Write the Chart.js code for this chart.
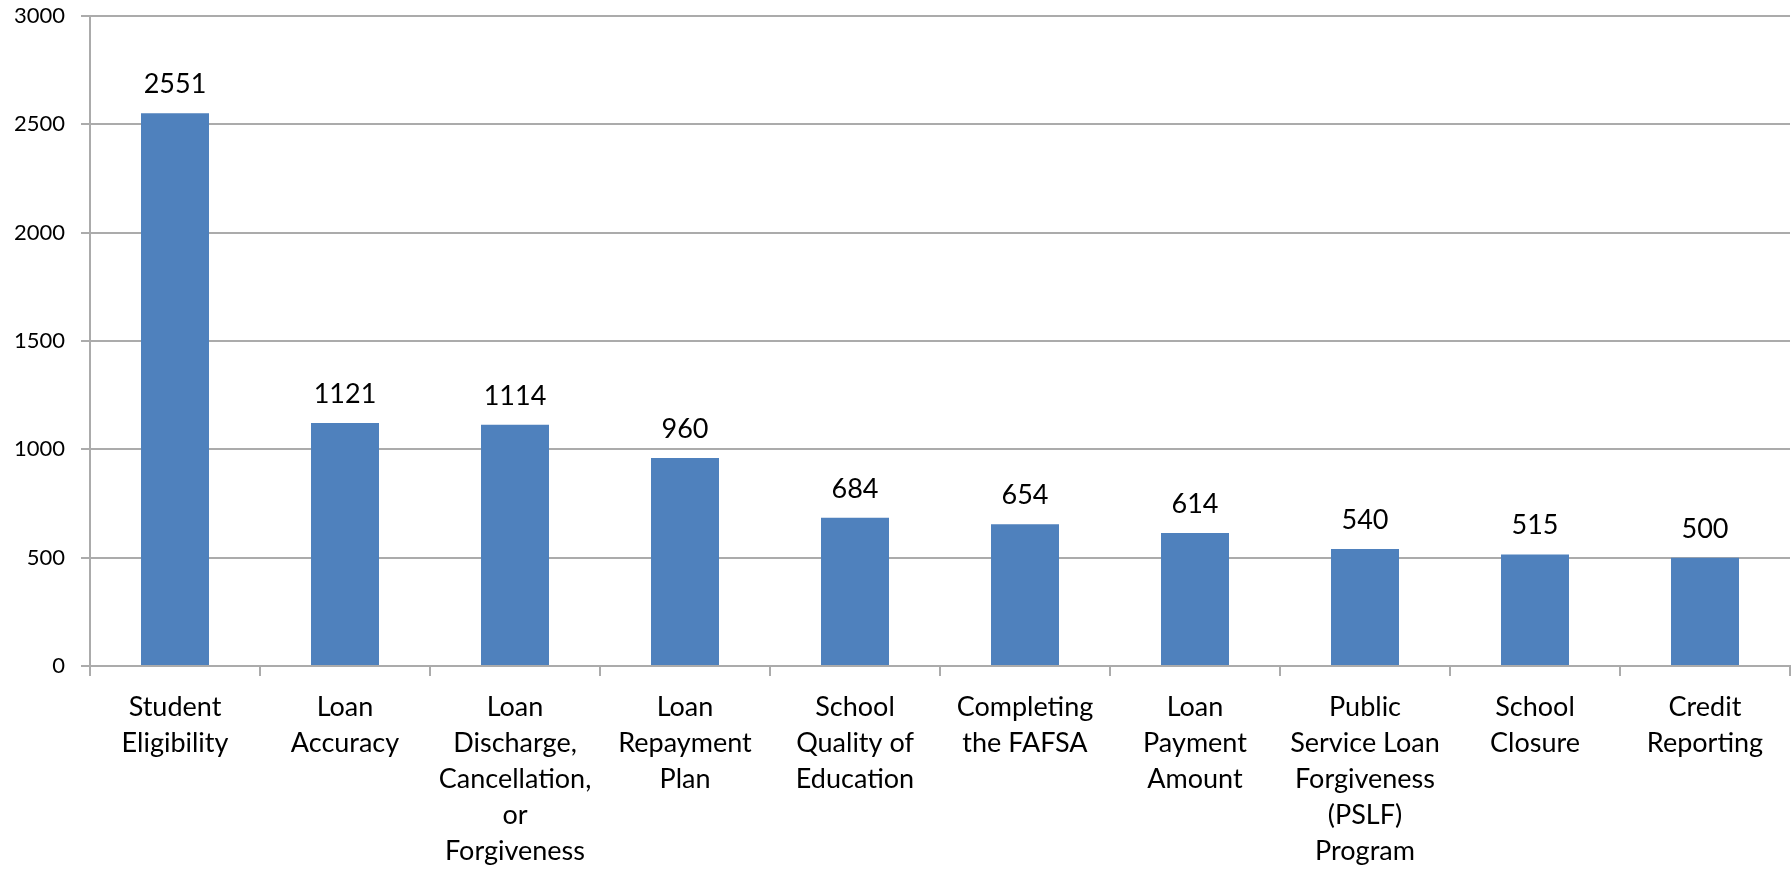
<!DOCTYPE html>
<html>
<head>
<meta charset="utf-8">
<script src="https://cdn.jsdelivr.net/npm/chart.js@4"></script>
<style>
html,body{margin:0;padding:0;background:#fff;}
#wrap{width:1791px;height:872px;position:relative;}
</style>
</head>
<body>
<div id="wrap"><canvas id="c" width="1791" height="872"></canvas></div>
<script>
const categories = [
  ["Student","Eligibility"],
  ["Loan","Accuracy"],
  ["Loan","Discharge,","Cancellation,","or","Forgiveness"],
  ["Loan","Repayment","Plan"],
  ["School","Quality of","Education"],
  ["Completing","the FAFSA"],
  ["Loan","Payment","Amount"],
  ["Public","Service Loan","Forgiveness","(PSLF)","Program"],
  ["School","Closure"],
  ["Credit","Reporting"]
];
const values = [2551, 1121, 1114, 960, 684, 654, 614, 540, 515, 500];
const yTicks = [0, 500, 1000, 1500, 2000, 2500, 3000];

const FONT = "Lato, 'Open Sans', sans-serif";
const gridColor = '#ababab';

// size the y tick font so "3000" is about as wide as in the reference (~50px)
const mctx = document.createElement('canvas').getContext('2d');
mctx.font = '20px ' + FONT;
const w20 = mctx.measureText('3000').width;
const yFontSize = Math.max(18, Math.min(28, Math.round(20 * 50 / w20)));

const valueLabels = {
  id: 'valueLabels',
  afterDatasetsDraw(chart) {
    const ctx = chart.ctx;
    const meta = chart.getDatasetMeta(0);
    ctx.save();
    ctx.font = '27px ' + FONT;
    ctx.fillStyle = '#000';
    ctx.textAlign = 'center';
    ctx.textBaseline = 'alphabetic';
    meta.data.forEach((bar, i) => {
      ctx.fillText(String(values[i]), bar.x, bar.y - 20);
    });
    ctx.restore();
  }
};

new Chart(document.getElementById('c'), {
  type: 'bar',
  data: {
    labels: categories,
    datasets: [{
      data: values,
      backgroundColor: '#4f81bd',
      borderWidth: 0,
      barPercentage: 0.4,
      categoryPercentage: 1.0
    }]
  },
  options: {
    responsive: false,
    animation: false,
    layout: { padding: { top: 16, right: 1, left: 0, bottom: 0 } },
    plugins: { legend: { display: false }, tooltip: { enabled: false } },
    scales: {
      x: {
        offset: true,
        grid: {
          offset: true,
          display: true,
          drawOnChartArea: false,
          drawTicks: true,
          tickLength: 10,
          color: gridColor,
          lineWidth: 2
        },
        border: { display: true, color: gridColor, width: 2 },
        ticks: {
          color: '#000',
          font: { family: FONT, size: 27, lineHeight: 1.335 },
          padding: 13,
          maxRotation: 0,
          minRotation: 0,
          autoSkip: false
        },
        afterFit(scale) { scale.height = 206; }
      },
      y: {
        min: 0,
        max: 3000,
        afterBuildTicks(scale) { scale.ticks = yTicks.map(v => ({ value: v })); },
        grid: {
          color: gridColor,
          lineWidth: 2,
          drawTicks: true,
          tickLength: 9
        },
        border: { display: true, color: gridColor, width: 2 },
        ticks: {
          color: '#000',
          font: { family: FONT, size: yFontSize },
          padding: 16,
          callback: (v) => String(v)
        },
        afterFit(scale) { scale.width = 90; scale.paddingTop = 0; scale.paddingBottom = 0; }
      }
    }
  },
  plugins: [valueLabels]
});
</script>
</body>
</html>
